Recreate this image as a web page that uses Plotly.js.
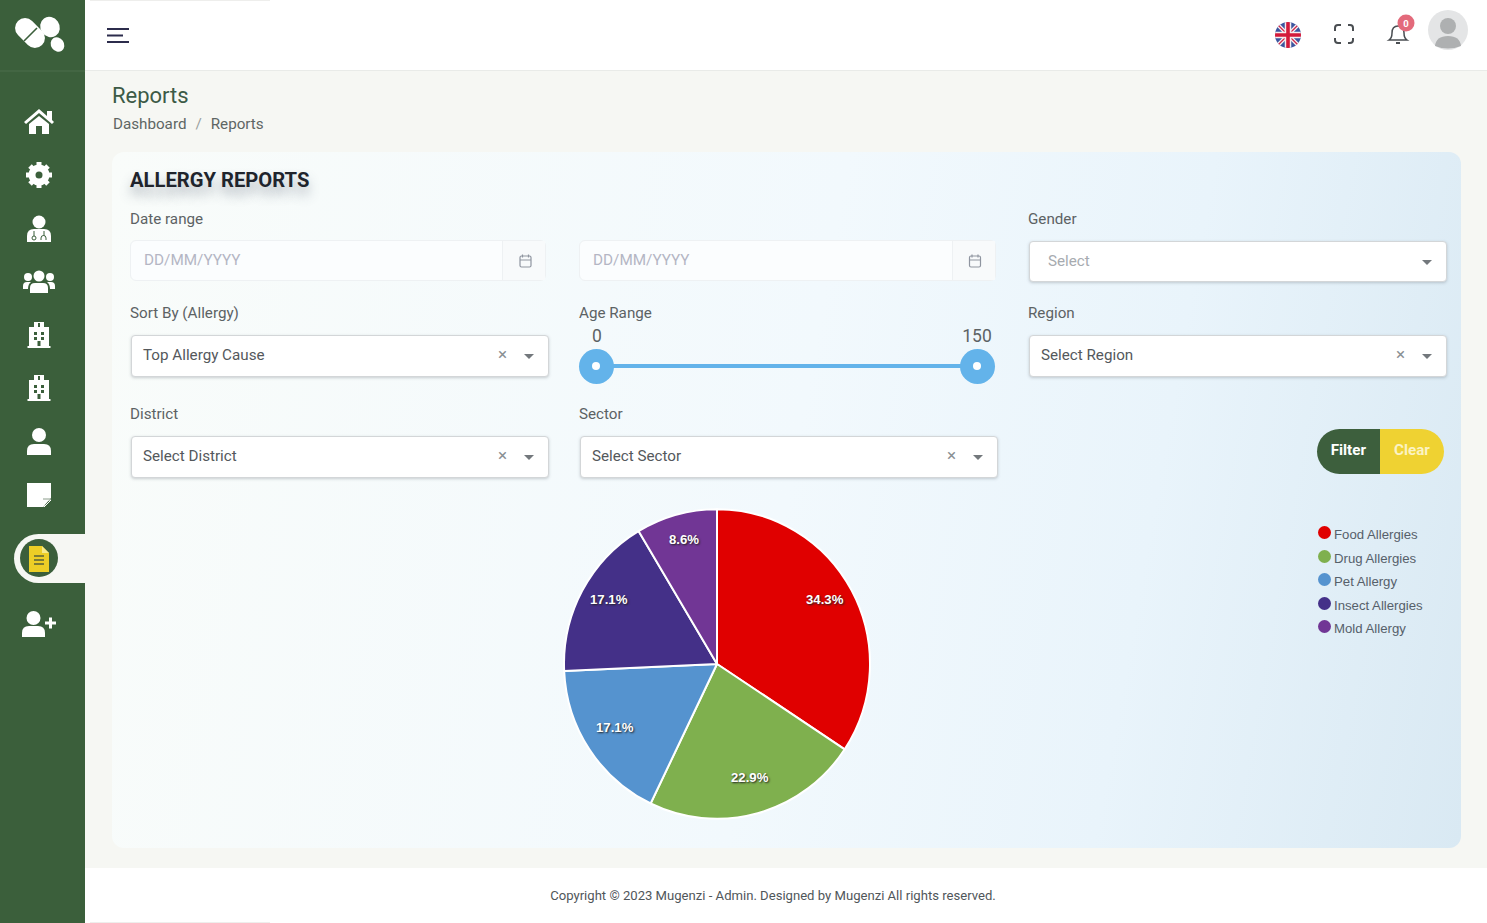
<!DOCTYPE html>
<html><head><meta charset="utf-8">
<script src="https://cdn.plot.ly/plotly-3.0.1.min.js"></script>
<style>
*{box-sizing:border-box}
html,body{margin:0;padding:0;width:1487px;height:923px;overflow:hidden;font-family:Roboto,sans-serif;background:#f6f7f3}
.a{position:absolute}
#side{left:0;top:0;width:85px;height:923px;background:#3b5f3b}
#top{left:85px;top:0;width:1402px;height:71px;background:#fff;border-bottom:1px solid #e9ebe8}
#foot{left:85px;top:868px;width:1402px;height:55px;background:#fff}
#card{left:112px;top:152px;width:1349px;height:696px;border-radius:12px;background:linear-gradient(100deg,#f9fcfa 0%,#f2f9fd 50%,#e9f4fb 75%,#d9e9f3 100%)}
.lbl{font-size:15.2px;color:#5c6264;white-space:nowrap;line-height:18px}
.box{background:#fff;border:1px solid #d3d6d8;border-radius:4px;box-shadow:0 1px 3px rgba(90,100,110,.3)}
.date{background:#fbfdfe;border:1px solid #eef1f3;border-radius:6px}
.dt{font-size:15.3px;color:#b4b6c4;position:absolute;left:13px;top:10px;line-height:18px}
.cal{position:absolute;right:0;top:0;bottom:0;width:43px;border-left:1px solid #eef1f3;background:#f8fafb}
.val{position:absolute;left:11px;top:10px;font-size:15.2px;color:#54585c;line-height:18px;white-space:nowrap}
.x{position:absolute;right:41px;top:7px;font-size:17px;color:#8a8f94;line-height:22px}
.car{position:absolute;right:14px;top:18px;width:0;height:0;border-left:5.5px solid transparent;border-right:5.5px solid transparent;border-top:5.5px solid #73787c}
#leg{left:1318px;top:526px;font-family:"Liberation Sans",Arial,sans-serif}
.li{position:absolute;left:0;white-space:nowrap;font-size:13.2px;color:#56606a;line-height:18px;padding-left:16px}
.li i{position:absolute;left:0;top:0;width:13px;height:13px;border-radius:50%}
svg{position:absolute;overflow:visible}
</style></head><body>
<div class="a" id="top"></div>
<div class="a" id="side"></div>
<div class="a" id="foot"></div>
<div class="a" id="card"></div>
<div class="a" style="left:90px;top:0;width:180px;height:1px;background:#eeeeec"></div>
<div class="a" style="left:90px;top:922px;width:180px;height:1px;background:#eeeeec"></div>

<!-- sidebar -->
<svg style="left:0;top:0" width="85" height="660" fill="#fff">
 <line x1="0" y1="71" x2="85" y2="71" stroke="#4d6f4d"/>
 <rect x="13" y="23" width="34" height="20" rx="10" transform="rotate(45 30 33)"/>
 <line x1="24" y1="41" x2="37" y2="28" stroke="#3b5f3b" stroke-width="1.6"/>
 <ellipse cx="50" cy="27" rx="9.5" ry="10.5" transform="rotate(-35 50 27)"/>
 <ellipse cx="57.500" cy="44.500" rx="6.500" ry="7.500" transform="rotate(-35 57.500 44.500)"/>
 <!-- home -->
 <path d="M24 122 L39 109 L47 116 V111 H52 V120 L54 122 L52 124 L39 113 L26 124z"/><path d="M29 124 L39 116 L49 124 V134 H42 V126 H36 V134 H29z"/>
 <!-- gear -->
 <circle cx="39" cy="175" r="10.5"/><g stroke="#fff" stroke-width="5"><line x1="39" y1="162" x2="39" y2="188"/><line x1="26" y1="175" x2="52" y2="175"/><line x1="30" y1="166" x2="48" y2="184"/><line x1="48" y1="166" x2="30" y2="184"/></g><circle cx="39" cy="175" r="3.5" fill="#3b5f3b"/>
 <!-- doctor -->
 <circle cx="39" cy="222" r="6.5"/><path d="M27 242 V236 Q27 229 34 229 H44 Q51 229 51 236 V242z"/><path d="M34 231 v5 M44 231 v5" stroke="#3b5f3b" stroke-width="1"/><circle cx="34" cy="238" r="2" fill="none" stroke="#3b5f3b"/><path d="M41 240 v-2 a2.5 2.5 0 0 1 5 0 v2" fill="none" stroke="#3b5f3b"/>
 <!-- group -->
 <circle cx="39" cy="276" r="5.5"/><circle cx="28" cy="277" r="4"/><circle cx="50" cy="277" r="4"/><path d="M30 293 V288 Q30 283 35 283 H43 Q48 283 48 288 V293z"/><path d="M23 289 V286 Q23 282 27 282 H31 Q28 284 28 289z"/><path d="M55 289 V286 Q55 282 51 282 H47 Q50 284 50 289z"/>
 <!-- hospitals -->
 <g><rect x="29" y="327" width="20" height="20"/><rect x="34" y="322" width="10" height="6"/><rect x="27.500" y="346" width="23" height="2"/><g fill="#3b5f3b"><rect x="38" y="323" width="2" height="4"/><rect x="34" y="332" width="3" height="3"/><rect x="41" y="332" width="3" height="3"/><rect x="34" y="337" width="3" height="3"/><rect x="41" y="337" width="3" height="3"/><rect x="37.500" y="341" width="3" height="5"/></g></g>
 <g transform="translate(0 53)"><rect x="29" y="327" width="20" height="20"/><rect x="34" y="322" width="10" height="6"/><rect x="27.500" y="346" width="23" height="2"/><g fill="#3b5f3b"><rect x="38" y="323" width="2" height="4"/><rect x="34" y="332" width="3" height="3"/><rect x="41" y="332" width="3" height="3"/><rect x="34" y="337" width="3" height="3"/><rect x="41" y="337" width="3" height="3"/><rect x="37.500" y="341" width="3" height="5"/></g></g>
 <!-- person -->
 <circle cx="39" cy="435" r="7"/><path d="M27 455 V451 Q27 444 34 444 H44 Q51 444 51 451 V455z"/>
 <!-- note -->
 <path d="M27 483 H51 V498 L43 507 H27z"/><path d="M44 507 V500 H51 L44 507z" fill="none" stroke="#fff" stroke-width="1"/><path d="M43 499 H51" stroke="#8a9c8a" stroke-width="1"/>
 <!-- add user -->
 <circle cx="33.500" cy="618" r="7"/><path d="M22 637 V633 Q22 626 29 626 H38 Q45 626 45 633 V637z"/><path d="M45 623 h11 M50.500 617.500 v11" stroke="#fff" stroke-width="3"/>
</svg>
<!-- active item -->
<div class="a" style="left:14px;top:534px;width:71px;height:49px;background:#f6f7f3;border-radius:25px 0 0 25px"></div>
<div class="a" style="left:20px;top:539px;width:38px;height:38px;border-radius:50%;background:#3b5f3b"></div>
<svg style="left:0;top:0" width="85" height="660"><path d="M29 546 H42 L49 553 V572 H29z" fill="#ecce26"/><path d="M42 546 V553 H49z" fill="#f5e98a"/><path d="M34 556 h10 M34 560 h10 M34 564 h10" stroke="#55613a" stroke-width="1.300"/></svg>

<!-- header -->
<svg style="left:0;top:0" width="1487" height="71">
 <path d="M107 29 H129 M107 35.500 H123 M107 42 H129" stroke="#2c2c4c" stroke-width="2"/>
 <clipPath id="c"><circle cx="1288" cy="35" r="13"/></clipPath>
 <g clip-path="url(#c)"><rect x="1270" y="20" width="36" height="30" fill="#3c559f"/><path d="M1274 21 L1302 49 M1302 21 L1274 49" stroke="#f4eef0" stroke-width="4"/><path d="M1274 21 L1302 49 M1302 21 L1274 49" stroke="#d0274a" stroke-width="1.300"/><path d="M1288 20 V50 M1270 35 H1306" stroke="#f4eef0" stroke-width="6.500"/><path d="M1288 20 V50 M1270 35 H1306" stroke="#d3193a" stroke-width="3.600"/></g>
 <path d="M1335 31 V28 Q1335 25 1338 25 H1341 M1348 25 H1350 Q1353 25 1353 28 V31 M1353 38 V40 Q1353 43 1350 43 H1348 M1341 43 H1338 Q1335 43 1335 40 V38" fill="none" stroke="#4a4e52" stroke-width="2"/>
 <path d="M1389 40 Q1392 38 1392 33 Q1392 26 1398 26 Q1404 26 1404 33 Q1404 38 1407 40z" fill="none" stroke="#4a4e52" stroke-width="1.500"/><path d="M1396 43 h4" stroke="#4a4e52" stroke-width="2"/>
 <circle cx="1406" cy="23" r="8.500" fill="#e36a7b"/><text x="1406" y="26.500" font-family="Roboto" font-weight="700" font-size="9.500" fill="#fff" text-anchor="middle">0</text>
 <circle cx="1448" cy="30" r="20" fill="#e4e5e6"/><circle cx="1448" cy="26" r="8" fill="#aeb0b1"/><path d="M1435 46 Q1436 36 1448 36 Q1460 36 1461 46 Q1448 51 1435 46z" fill="#aeb0b1"/>
</svg>

<div class="a" style="left:112px;top:83px;font-size:22px;color:#3c5a46;line-height:26px">Reports</div>
<div class="a" style="left:113px;top:115px;font-size:15.200px;color:#5e6664;line-height:18px;white-space:nowrap">Dashboard<span style="color:#9aa0a0;margin:0 9px">/</span>Reports</div>
<div class="a" style="left:130px;top:168px;font-size:20.200px;font-weight:700;color:#20242c;line-height:24px;text-shadow:0 8px 12px rgba(80,90,110,.45);white-space:nowrap">ALLERGY REPORTS</div>

<div class="a lbl" style="left:130px;top:210px">Date range</div>
<div class="a lbl" style="left:1028px;top:210px">Gender</div>
<div class="a lbl" style="left:130px;top:304px">Sort By (Allergy)</div>
<div class="a lbl" style="left:579px;top:304px">Age Range</div>
<div class="a lbl" style="left:1028px;top:304px">Region</div>
<div class="a lbl" style="left:130px;top:405px">District</div>
<div class="a lbl" style="left:579px;top:405px">Sector</div>

<div class="a date" style="left:130px;top:240px;width:416px;height:41px"><span class="dt">DD/MM/YYYY</span><div class="cal"></div></div>
<div class="a date" style="left:579px;top:240px;width:417px;height:41px"><span class="dt">DD/MM/YYYY</span><div class="cal"></div></div>
<svg style="left:0;top:0" width="1100" height="300"><g fill="none" stroke="#8f95a0" stroke-width="1.200"><g><rect x="520" y="256" width="11" height="11" rx="1.500"/><path d="M520 260 H531 M522.500 254.500 v3 M528.500 254.500 v3"/></g><g transform="translate(449.500 0)"><rect x="520" y="256" width="11" height="11" rx="1.500"/><path d="M520 260 H531 M522.500 254.500 v3 M528.500 254.500 v3"/></g></g></svg>

<div class="a box" style="left:1029px;top:241px;width:418px;height:41px"><span class="val" style="left:18px;color:#a7abb0">Select</span><span class="car"></span></div>
<div class="a box" style="left:131px;top:335px;width:418px;height:42px"><span class="val">Top Allergy Cause</span><span class="x">×</span><span class="car"></span></div>
<div class="a box" style="left:1029px;top:335px;width:418px;height:42px"><span class="val">Select Region</span><span class="x">×</span><span class="car"></span></div>
<div class="a box" style="left:131px;top:436px;width:418px;height:42px"><span class="val">Select District</span><span class="x">×</span><span class="car"></span></div>
<div class="a box" style="left:580px;top:436px;width:418px;height:42px"><span class="val">Select Sector</span><span class="x">×</span><span class="car"></span></div>

<!-- slider -->
<div class="a" style="left:590px;top:364px;width:390px;height:4px;background:#63b3ea"></div>
<div class="a" style="left:579px;top:349px;width:35px;height:35px;border-radius:50%;background:#63b3ea"></div>
<div class="a" style="left:960px;top:349px;width:35px;height:35px;border-radius:50%;background:#63b3ea"></div>
<div class="a" style="left:592px;top:362px;width:8px;height:8px;border-radius:50%;background:#fff"></div>
<div class="a" style="left:973px;top:362px;width:8px;height:8px;border-radius:50%;background:#fff"></div>
<div class="a lbl" style="left:577px;top:326px;width:40px;text-align:center;font-size:17.500px;line-height:20px">0</div>
<div class="a lbl" style="left:957px;top:326px;width:40px;text-align:center;font-size:17.500px;line-height:20px">150</div>

<!-- buttons -->
<div class="a" style="left:1317px;top:429px;width:63px;height:45px;background:#3d5f3d;border-radius:23px 0 0 23px;color:#fff;font-weight:700;font-size:15.200px;line-height:43px;text-align:right;padding-right:14px">Filter</div>
<div class="a" style="left:1380px;top:429px;width:64px;height:45px;background:#efd232;border-radius:0 23px 23px 0;color:#fbf3c4;font-weight:700;font-size:15.200px;line-height:43px;padding-left:14px">Clear</div>

<div class="a" id="leg"></div>
<div class="a" id="pie" style="left:546.5px;top:493.5px;width:340px;height:340px;transform:scaleY(1.012);transform-origin:50% 50%"></div>

<div class="a" style="left:85px;top:888px;width:1376px;text-align:center;font-size:13.100px;color:#50565a;line-height:16px;white-space:nowrap">Copyright © 2023 Mugenzi - Admin. Designed by Mugenzi All rights reserved.</div>

<script>
const categories = ["Food Allergies", "Drug Allergies", "Pet Allergy", "Insect Allergies", "Mold Allergy"];
const values = [12, 8, 6, 6, 3];
const colors = ["#e00000", "#7fb04e", "#5593cf", "#443088", "#713695"];

const leg = document.getElementById('leg');
const legendSteps = [0, 23.5, 47, 70.500, 94];
categories.forEach((c, i) => {
  const d = document.createElement('div');
  d.className = 'li';
  d.style.top = legendSteps[i] + 'px';
  d.innerHTML = '<i style="background:' + colors[i] + '"></i>' + c;
  leg.appendChild(d);
});

// Percent labels sit at about 80% of the radius on each slice's mid-angle (Plotly's
// own inside placement keeps them nearer the centre than the reference does).
const total = values.reduce((s, v) => s + v, 0);
let running = 0;
const labelAnnotations = values.map(v => {
  const mid = (running + v / 2) / total * 2 * Math.PI;
  running += v;
  return {
    xref: 'paper', yref: 'paper',
    x: 0.5 + 0.4 * Math.sin(mid),
    y: 0.5177 + 0.4007 * Math.cos(mid),
    xanchor: 'center', yanchor: 'middle',
    showarrow: false,
    text: (v / total * 100).toFixed(1) + '%',
    font: {family: '"Liberation Sans", Arial, sans-serif', size: 13.200, color: '#ffffff', weight: 700, shadow: '1px 1px 2px #222'}
  };
});

Plotly.newPlot('pie', [{
  type: 'pie',
  labels: categories,
  values: values,
  sort: false,
  direction: 'clockwise',
  rotation: 0,
  marker: {colors: colors, line: {color: '#ffffff', width: 2}},
  textinfo: 'none',
  hoverinfo: 'label+percent'
}], {
  width: 340, height: 340,
  margin: {l: 16.500, r: 16.500, t: 16.500, b: 16.500},
  paper_bgcolor: 'rgba(0,0,0,0)',
  plot_bgcolor: 'rgba(0,0,0,0)',
  showlegend: false,
  annotations: labelAnnotations
}, {displayModeBar: false, staticPlot: true});
</script>
</body></html>
